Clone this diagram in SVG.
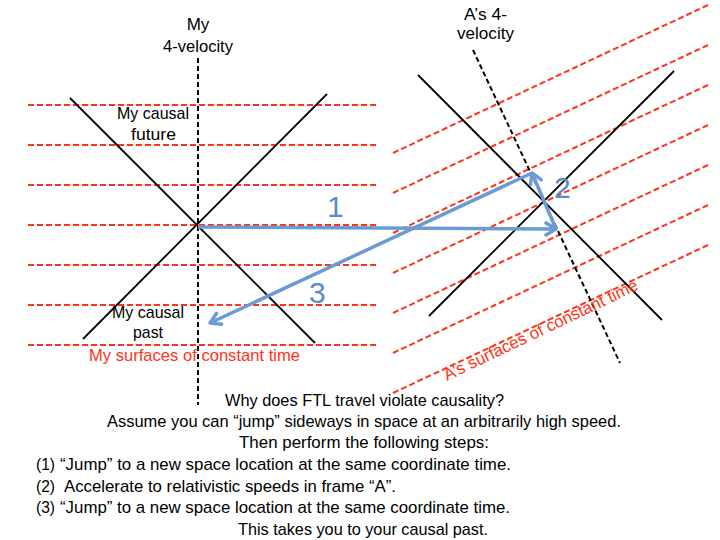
<svg xmlns="http://www.w3.org/2000/svg" width="720" height="540" viewBox="0 0 720 540">
<style>
.red{stroke:#ff3319;stroke-width:2;stroke-dasharray:6 3;fill:none}
.blk{stroke:#000;stroke-width:1.8;fill:none}
.blkd{stroke:#000;stroke-width:2;stroke-dasharray:5 3;fill:none}
.arr{stroke:#6a9bd3;stroke-width:3.5;fill:none;marker-end:url(#chev)}
text{font-family:"Liberation Sans",Arial,sans-serif;font-size:17px;fill:#000}
.rt{fill:#ff3319}
.num{font-size:30px;fill:#5b8bc8}
</style>
<defs>
<marker id="chev" viewBox="0 0 16 16" refX="13" refY="8" markerWidth="16" markerHeight="16" markerUnits="userSpaceOnUse" orient="auto">
<path d="M3,2 L13,8 L3,14" stroke="#6a9bd3" stroke-width="3.5" fill="none" stroke-linecap="round" stroke-linejoin="round"/>
</marker>
</defs>
<g id="my-surfaces">
<line class="red" x1="28" y1="105" x2="376" y2="105"/>
<line class="red" x1="28" y1="145" x2="376" y2="145"/>
<line class="red" x1="28" y1="185" x2="376" y2="185"/>
<line class="red" x1="28" y1="225" x2="376" y2="225"/>
<line class="red" x1="28" y1="265" x2="376" y2="265"/>
<line class="red" x1="28" y1="305" x2="376" y2="305"/>
<line class="red" x1="28" y1="345" x2="376" y2="345"/>
</g>
<g id="a-surfaces">
<line class="red" x1="393" y1="153" x2="708" y2="5"/>
<line class="red" x1="393" y1="193" x2="708" y2="45"/>
<line class="red" x1="393" y1="233" x2="708" y2="85"/>
<line class="red" x1="393" y1="273" x2="708" y2="125"/>
<line class="red" x1="393" y1="313" x2="708" y2="165"/>
<line class="red" x1="393" y1="353" x2="708" y2="205"/>
<line class="red" x1="393" y1="393" x2="708" y2="245"/>
</g>
<g id="my-lightcone">
<line class="blk" x1="70" y1="98" x2="315" y2="343"/>
<line class="blk" x1="327" y1="94" x2="83" y2="339"/>
<line class="blkd" x1="198" y1="58" x2="198" y2="405"/>
</g>
<g id="a-lightcone">
<line class="blk" x1="418" y1="75" x2="662" y2="320"/>
<line class="blk" x1="674" y1="71" x2="429" y2="316"/>
<line class="blkd" x1="473" y1="50" x2="620" y2="363"/>
</g>
<g id="connectors">
<path class="arr" d="M198,227 L556,229"/>
<path class="arr" d="M556,229 L532,173"/>
<path class="arr" d="M532,173 L210,323"/>
</g>
<g id="labels">
<text x="198" y="30" text-anchor="middle">My</text>
<text x="198" y="52" text-anchor="middle" textLength="70" lengthAdjust="spacingAndGlyphs">4-velocity</text>
<text x="485.5" y="20" text-anchor="middle" textLength="43" lengthAdjust="spacingAndGlyphs">A’s 4-</text>
<text x="485.5" y="39" text-anchor="middle" textLength="57" lengthAdjust="spacingAndGlyphs">velocity</text>
<text x="117" y="119" textLength="72" lengthAdjust="spacingAndGlyphs">My causal</text>
<text x="131" y="140" textLength="45" lengthAdjust="spacingAndGlyphs">future</text>
<text x="112" y="318" textLength="72" lengthAdjust="spacingAndGlyphs">My causal</text>
<text x="133" y="338" textLength="30" lengthAdjust="spacingAndGlyphs">past</text>
<text class="rt" x="89" y="361" textLength="211" lengthAdjust="spacingAndGlyphs">My surfaces of constant time</text>
<text class="rt" x="0" y="0" transform="translate(447,381) rotate(-25.5)" textLength="213" lengthAdjust="spacingAndGlyphs">A’s surfaces of constant time</text>
<text class="num" x="327" y="217">1</text>
<text class="num" x="554" y="198">2</text>
<text class="num" x="309" y="303">3</text>
</g>
<g id="caption">
<text x="225" y="406" textLength="279" lengthAdjust="spacingAndGlyphs">Why does FTL travel violate causality?</text>
<text x="107" y="427" textLength="514" lengthAdjust="spacingAndGlyphs">Assume you can “jump” sideways in space at an arbitrarily high speed.</text>
<text x="239" y="448" textLength="250" lengthAdjust="spacingAndGlyphs">Then perform the following steps:</text>
<text x="36" y="470" textLength="19" lengthAdjust="spacingAndGlyphs">(1)</text>
<text x="60" y="470" textLength="451" lengthAdjust="spacingAndGlyphs">“Jump” to a new space location at the same coordinate time.</text>
<text x="36" y="492" textLength="19" lengthAdjust="spacingAndGlyphs">(2)</text>
<text x="64" y="492" textLength="332" lengthAdjust="spacingAndGlyphs">Accelerate to relativistic speeds in frame “A”.</text>
<text x="36" y="513" textLength="19" lengthAdjust="spacingAndGlyphs">(3)</text>
<text x="60" y="513" textLength="450" lengthAdjust="spacingAndGlyphs">“Jump” to a new space location at the same coordinate time.</text>
<text x="238" y="535" textLength="250" lengthAdjust="spacingAndGlyphs">This takes you to your causal past.</text>
</g>
</svg>
